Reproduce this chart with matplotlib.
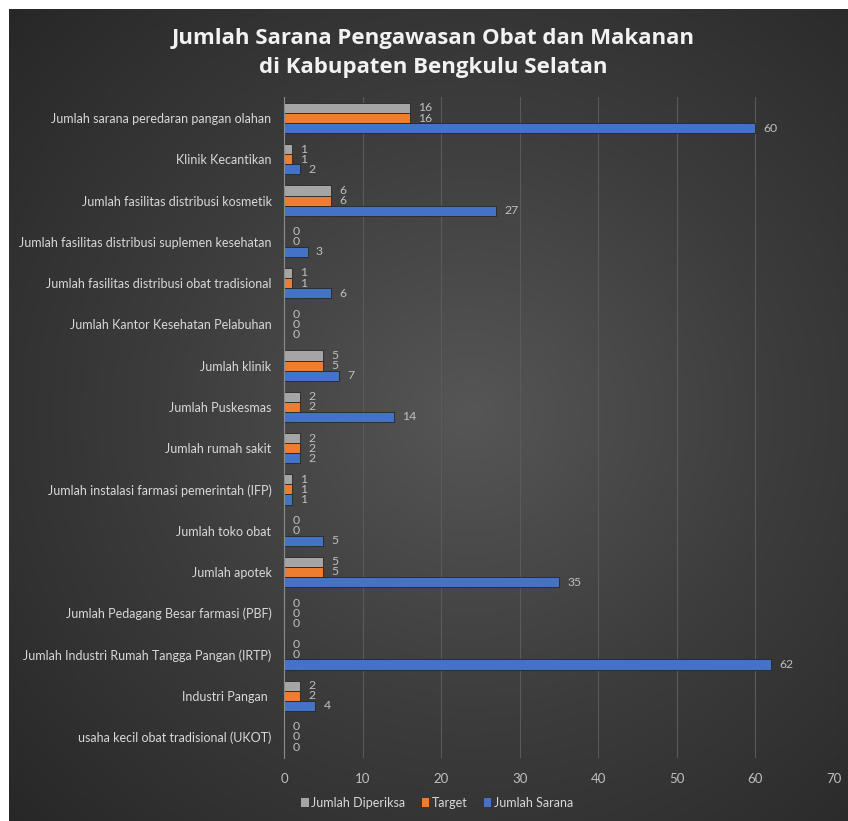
import numpy as np
import matplotlib
matplotlib.use('Agg')
import matplotlib.pyplot as plt
from matplotlib.colors import LinearSegmentedColormap
from matplotlib.patches import Patch

plt.rcParams['font.family'] = ['Lato', 'DejaVu Sans']

# data, top to bottom as in the chart
categories = [
    'Jumlah sarana peredaran pangan olahan',
    'Klinik Kecantikan',
    'Jumlah fasilitas distribusi kosmetik',
    'Jumlah fasilitas distribusi suplemen kesehatan',
    'Jumlah fasilitas distribusi obat tradisional',
    'Jumlah Kantor Kesehatan Pelabuhan',
    'Jumlah klinik',
    'Jumlah Puskesmas',
    'Jumlah rumah sakit',
    'Jumlah instalasi farmasi pemerintah (IFP)',
    'Jumlah toko obat',
    'Jumlah apotek',
    'Jumlah Pedagang Besar farmasi (PBF)',
    'Jumlah Industri Rumah Tangga Pangan (IRTP)',
    'Industri Pangan ',
    'usaha kecil obat tradisional (UKOT)',
]
diperiksa = [16, 1, 6, 0, 1, 0, 5, 2, 2, 1, 0, 5, 0, 0, 2, 0]
target = [16, 1, 6, 0, 1, 0, 5, 2, 2, 1, 0, 5, 0, 0, 2, 0]
sarana = [60, 2, 27, 3, 6, 0, 7, 14, 2, 1, 5, 35, 0, 62, 4, 0]
series_names = ['Jumlah Diperiksa', 'Target', 'Jumlah Sarana']
colors = ['#a5a5a5', '#ed7d31', '#4472c4']

W, H = 848, 821
fig = plt.figure(figsize=(W / 100, H / 100), dpi=100)
fig.patch.set_facecolor('white')

# dark radial background
bg = fig.add_axes([9 / W, 0, 1 - 9 / W, 1 - 9 / H])
yy, xx = np.mgrid[0:1:400j, 0:1:400j]
r = np.sqrt(((xx - 0.55) / 0.75) ** 2 + ((yy - 0.5) / 0.75) ** 2)
cmap = LinearSegmentedColormap.from_list('bg', ['#565656', '#3c3c3c', '#272727'])
bg.imshow(np.clip(r, 0, 1), cmap=cmap, aspect='auto', extent=[0, 1, 0, 1], vmin=0, vmax=1)
bg.axis('off')

ax = fig.add_axes([284 / W, 1 - 757.6 / H, (834 - 284) / W, (757.6 - 97.4) / H])
ax.set_facecolor('none')

y = np.arange(len(categories))
h = 0.245
for vals, off, c in zip([diperiksa, target, sarana], [-h, 0, h], colors):
    bars = ax.barh(y + off, vals, height=h, color=c, edgecolor='#262626', linewidth=0.6, zorder=3)
    ax.bar_label(bars, padding=6, color='#bfbfbf', fontsize=8.8)

ax.set_xlim(0, 70)
ax.set_ylim(len(categories) - 0.5, -0.5)
ax.set_xticks(range(0, 71, 10))
ax.set_yticks(y)
ax.set_yticklabels(categories)
ax.tick_params(axis='x', length=0, pad=11, labelcolor='#bfbfbf', labelsize=9.5)
ax.tick_params(axis='y', length=0, pad=9, labelcolor='#d9d9d9', labelsize=9)
ax.grid(axis='x', color='#5a5a5a', linewidth=0.8, zorder=0)
for s in ['top', 'right', 'bottom']:
    ax.spines[s].set_visible(False)
ax.spines['left'].set_color('#8c8c8c')
ax.spines['left'].set_zorder(4)

fig.text(0.511, 1 - 53 / H, 'Jumlah Sarana Pengawasan Obat dan Makanan\ndi Kabupaten Bengkulu Selatan',
         ha='center', va='center', color='#f2f2f2', fontsize=16, fontweight='bold',
         family=['Open Sans', 'DejaVu Sans'], linespacing=1.45)

handles = [Patch(facecolor=c, edgecolor='none') for c in colors]
leg = fig.legend(handles, series_names, loc='center', bbox_to_anchor=(437 / W, 1 - 803 / H),
                 ncol=3, frameon=False, fontsize=9, handlelength=0.6, handleheight=0.7,
                 handletextpad=0.2, columnspacing=1.3)
for t in leg.get_texts():
    t.set_color('#d9d9d9')

fig.savefig('out.png', dpi=100)
